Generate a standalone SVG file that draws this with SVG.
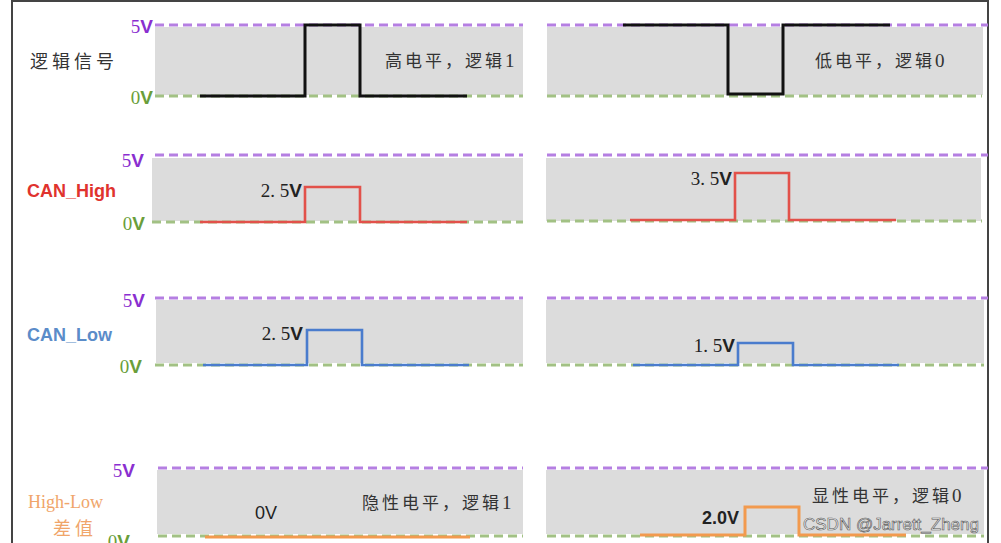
<svg xmlns="http://www.w3.org/2000/svg" width="1001" height="543" viewBox="0 0 1001 543">
<style>
.bg{fill:#dcdcdc}
.p{stroke:#b57fe2;stroke-width:3;stroke-dasharray:9 5;fill:none}
.g{stroke:#a2c184;stroke-width:3;stroke-dasharray:9 5;fill:none}
.sig{fill:none;stroke-linejoin:miter}
.k{stroke:#111;stroke-width:3}
.r{stroke:#e2514a;stroke-width:2.6}
.b{stroke:#4a7ccd;stroke-width:2.6}
.o{stroke:#f29a4e;stroke-width:3}
.ser{font-family:"Liberation Serif",serif}
.sans{font-family:"Liberation Sans",Arial,sans-serif;font-weight:bold}
.v5{fill:#8a2fd0;font-size:19px}
.v0{fill:#6a9e3a;font-size:19px}
.cn{font-family:"Noto Sans CJK SC",sans-serif;fill:#333;font-size:17px;letter-spacing:3px}
.val{font-size:19px;fill:#222}
</style>
<rect x="12" y="1" width="976" height="570" fill="#fff" stroke="#444" stroke-width="2"/>

<g id="row1">
<rect class="bg" x="155" y="27" width="368" height="68"/>
<rect class="bg" x="547" y="27" width="436" height="68"/>
<path class="p" d="M155 25H523M547 25H988"/>
<path class="g" d="M155 96H523M547 96H982"/>
<text x="153" y="33" text-anchor="end" class="v5"><tspan class="ser">5</tspan><tspan class="sans">V</tspan></text>
<text x="153" y="104" text-anchor="end" class="v0"><tspan class="ser">0</tspan><tspan class="sans">V</tspan></text>
<text x="30" y="68" class="cn" style="font-size:18px;letter-spacing:4px">逻辑信号</text>
<text x="385" y="67" class="cn">高电平，逻辑<tspan class="ser" style="font-size:19px">1</tspan></text>
<text x="815" y="67" class="cn">低电平，逻辑<tspan class="ser" style="font-size:19px">0</tspan></text>
<path class="sig k" d="M200 96H305V25H360V96H467"/>
<path class="sig k" d="M623 25H728V94H783V25H890"/>
</g>

<g id="row2">
<rect class="bg" x="152" y="158" width="371" height="63"/>
<rect class="bg" x="546" y="158" width="435" height="63"/>
<path class="p" d="M155 155H523M547 155H988"/>
<path class="g" d="M152 222H523M547 221H982"/>
<text x="144" y="167" text-anchor="end" class="v5"><tspan class="ser">5</tspan><tspan class="sans">V</tspan></text>
<text x="145" y="230" text-anchor="end" class="v0"><tspan class="ser">0</tspan><tspan class="sans">V</tspan></text>
<text x="27" y="197" class="sans" style="fill:#e0332e;font-size:18px">CAN_High</text>
<text x="302" y="197" text-anchor="end" class="val"><tspan class="ser">2. 5</tspan><tspan class="sans">V</tspan></text>
<text x="732" y="185" text-anchor="end" class="val"><tspan class="ser">3. 5</tspan><tspan class="sans">V</tspan></text>
<path class="sig r" d="M200 222H305V187H360V222H467"/>
<path class="sig r" d="M630 220H735V173H789V220H896"/>
</g>

<g id="row3">
<rect class="bg" x="156" y="300" width="367" height="63"/>
<rect class="bg" x="546" y="300" width="438" height="63"/>
<path class="p" d="M155 298H523M547 298H988"/>
<path class="g" d="M155 365H523M547 365H984"/>
<text x="145" y="307" text-anchor="end" class="v5"><tspan class="ser">5</tspan><tspan class="sans">V</tspan></text>
<text x="142" y="373" text-anchor="end" class="v0"><tspan class="ser">0</tspan><tspan class="sans">V</tspan></text>
<text x="27" y="341" class="sans" style="fill:#5b8cc9;font-size:18px">CAN_Low</text>
<text x="303" y="340" text-anchor="end" class="val"><tspan class="ser">2. 5</tspan><tspan class="sans">V</tspan></text>
<text x="735" y="352" text-anchor="end" class="val"><tspan class="ser">1. 5</tspan><tspan class="sans">V</tspan></text>
<path class="sig b" d="M203 365H307V330H362V365H469"/>
<path class="sig b" d="M633 365H738V343H793V365H899"/>
</g>

<g id="row4">
<rect class="bg" x="157" y="470" width="366" height="64"/>
<rect class="bg" x="546" y="470" width="438" height="64"/>
<path class="p" d="M158 468H523M547 468H988"/>
<path class="g" d="M158 536H523M547 536H984"/>
<text x="135" y="477" text-anchor="end" class="v5"><tspan class="ser">5</tspan><tspan class="sans">V</tspan></text>
<text x="130" y="548" text-anchor="end" class="v0"><tspan class="ser">0</tspan><tspan class="sans">V</tspan></text>
<text x="28" y="508" class="ser" style="fill:#f0a56a;font-size:18px">High-Low</text>
<text x="53" y="535" class="cn" style="fill:#f0a56a;font-size:18px;letter-spacing:4px">差值</text>
<text x="255" y="519" class="sans" style="font-size:18px;fill:#222;font-weight:normal">0V</text>
<text x="362" y="509" class="cn">隐性电平，逻辑<tspan class="ser" style="font-size:19px">1</tspan></text>
<text x="812" y="502" class="cn">显性电平，逻辑<tspan class="ser" style="font-size:19px">0</tspan></text>
<text x="739" y="524" text-anchor="end" class="sans" style="font-size:18px;fill:#222">2.0V</text>
<path class="sig o" d="M205 537H470"/>
<path class="sig o" d="M640 535H745V507H799V535H906"/>
<text x="803" y="530" style="font-family:'Liberation Sans',Arial,sans-serif;font-size:17px;fill:#f4f4f4;stroke:#555;stroke-width:0.6">CSDN @Jarrett_Zheng</text>
</g>
</svg>
